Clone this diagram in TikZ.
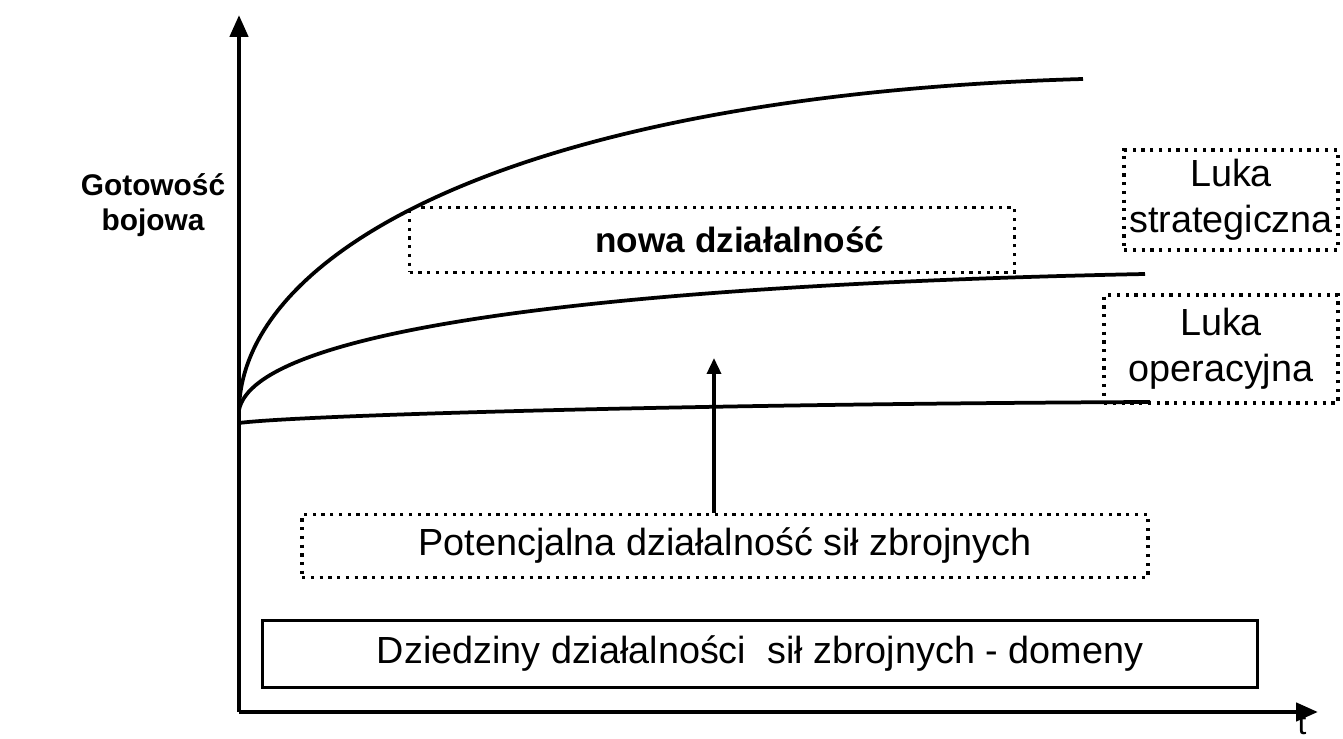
\documentclass[tikz,border=0pt]{standalone}
\usepackage{fontspec}
\setmainfont{Liberation Sans}
\usepackage{tikz}
\usetikzlibrary{arrows.meta}

\begin{document}
\begin{tikzpicture}[x=0.02cm, y=-0.02cm, font=\fontsize{21.5}{26}\selectfont,
  axis/.style={line width=0.09cm, -{Triangle[width=0.36cm,length=0.44cm]}},
  curve/.style={line width=0.075cm},
  dotbox/.style={draw, line width=0.065cm, dash pattern=on 0.065cm off 0.11cm, inner sep=0pt, align=center},
  solidbox/.style={draw, line width=0.06cm, inner sep=0pt}]
\useasboundingbox (0,0) rectangle (1343,739);
% axes
\coordinate (O) at (239,712);
\coordinate (ytip) at (239,15);
\coordinate (xtip) at (1318,712);
\draw[axis] (O) -- (ytip);
\draw[axis] (O) -- (xtip);
\node[anchor=base, inner sep=0pt, font=\fontsize{18}{20}\selectfont] (t) at (1302,735) {t};
\node[font=\fontsize{17}{20}\selectfont\bfseries, align=center] (gotowosc) at (153,205) {Gotowość\\bojowa};
% curves
\coordinate (start) at (239,410);
\draw[curve] (start) .. controls (242,250) and (520,95) .. (1083,79);
\draw[curve] (start) .. controls (255,330) and (600,285) .. (1145,274);
\draw[curve] (239,423) .. controls (300,415) and (700,404) .. (1150,402);
% boxes
\node[dotbox, minimum width=12.1cm, minimum height=1.3cm] (nowa) at (712,240) {};
\node[font=\fontsize{20}{24}\selectfont\bfseries] (nowatxt) at (740,240) {nowa działalność};
\node[dotbox, minimum width=16.92cm, minimum height=1.26cm] (potencjal) at (725,546) {Potencjalna działalność sił zbrojnych};
\node[solidbox, minimum width=19.92cm, minimum height=1.36cm] (domeny) at (760,654) {Dziedziny działalności\ \ sił zbrojnych - domeny};
\node[dotbox, minimum width=4.28cm, minimum height=2cm] (strateg) at (1231,200) {Luka\\strategiczna};
\node[dotbox, minimum width=4.68cm, minimum height=2.16cm] (operac) at (1221,349) {Luka\\operacyjna};
% arrow
\coordinate (wzrost) at (714,358);
\draw[line width=0.07cm, -{Triangle[width=0.28cm,length=0.32cm]}] (potencjal.north -| wzrost) -- (wzrost);
\end{tikzpicture}
\end{document}
